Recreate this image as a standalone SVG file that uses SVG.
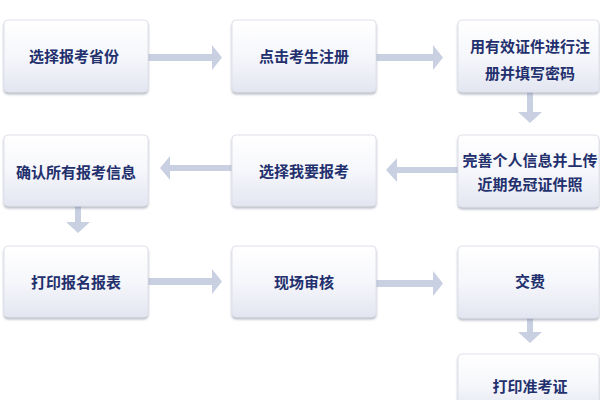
<svg xmlns="http://www.w3.org/2000/svg" width="600" height="400" viewBox="0 0 600 400">
<defs>
<linearGradient id="g" x1="0" y1="0" x2="0" y2="1">
<stop offset="0" stop-color="#ffffff"/>
<stop offset="0.5" stop-color="#f6f7fb"/>
<stop offset="1" stop-color="#e3e6f1"/>
</linearGradient>
<filter id="sh" x="-10%" y="-10%" width="120%" height="130%">
<feDropShadow dx="0" dy="2" stdDeviation="1.2" flood-color="#7f869c" flood-opacity="0.55"/>
</filter>
</defs>
<style>
.box{fill:url(#g);stroke:#dfe2ea;stroke-width:1;filter:url(#sh)}
.t{font-family:"Noto Sans CJK SC","Noto Sans",sans-serif;font-weight:bold;font-size:15px;fill:#23306e;text-anchor:middle;dominant-baseline:central}
.a{fill:#c9d0e1}
</style>
<rect width="600" height="400" fill="#ffffff"/>
<g id="connectors">
<path class="a" d="M148,54h64v-9l10,12.5l-10,12.5v-9h-64z"/>
<path class="a" d="M376,54h57v-9l10,12.5l-10,12.5v-9h-57z"/>
<path class="a" d="M527,92v20h-9l12,11l12,-11h-9v-20z"/>
<path class="a" d="M458,167h-61v-9l-11,12l11,12v-9h61z"/>
<path class="a" d="M232,165h-62v-9l-10,12l10,12v-9h62z"/>
<path class="a" d="M75,206v16h-9l12,11l12,-11h-9v-16z"/>
<path class="a" d="M148,278h64v-9l10,12.5l-10,12.5v-9h-64z"/>
<path class="a" d="M376,280h57v-9l10,12.5l-10,12.5v-9h-57z"/>
<path class="a" d="M527,318v14h-9l12,11l12,-11h-9v-14z"/>
</g>
<g id="n1"><rect class="box" x="4" y="20" width="144" height="72" rx="4"/><text class="t" x="74" y="55">选择报考省份</text></g>
<g id="n2"><rect class="box" x="232" y="20" width="144" height="72" rx="4"/><text class="t" x="304" y="55">点击考生注册</text></g>
<g id="n3"><rect class="box" x="458" y="20" width="141" height="72" rx="4"/><text class="t" x="530" y="45">用有效证件进行注</text><text class="t" x="530" y="72">册并填写密码</text></g>
<g id="n4"><rect class="box" x="458" y="135" width="141" height="72" rx="4"/><text class="t" x="530" y="159">完善个人信息并上传</text><text class="t" x="530" y="183">近期免冠证件照</text></g>
<g id="n5"><rect class="box" x="232" y="135" width="144" height="71" rx="4"/><text class="t" x="304" y="170">选择我要报考</text></g>
<g id="n6"><rect class="box" x="4" y="135" width="144" height="71" rx="4"/><text class="t" x="76" y="171">确认所有报考信息</text></g>
<g id="n7"><rect class="box" x="4" y="246" width="144" height="71" rx="4"/><text class="t" x="76" y="281">打印报名报表</text></g>
<g id="n8"><rect class="box" x="232" y="246" width="144" height="71" rx="4"/><text class="t" x="304" y="281">现场审核</text></g>
<g id="n9"><rect class="box" x="458" y="246" width="141" height="72" rx="4"/><text class="t" x="530" y="280">交费</text></g>
<g id="n10"><rect class="box" x="458" y="354" width="141" height="60" rx="4"/><text class="t" x="530" y="385">打印准考证</text></g>
</svg>
